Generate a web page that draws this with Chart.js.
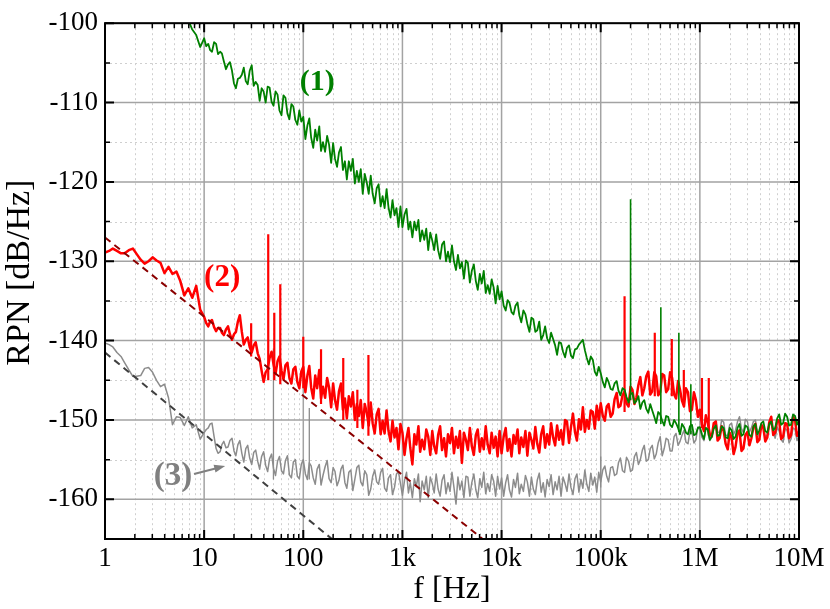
<!DOCTYPE html>
<html>
<head>
<meta charset="utf-8">
<script src="https://cdn.jsdelivr.net/npm/chart.js@4.4.0/dist/chart.umd.min.js"></script>
<style>
  html, body { margin: 0; padding: 0; background: #fff; }
  #chart { display: block; }
</style>
</head>
<body>
<canvas id="chart" width="830" height="609"></canvas>
<script>
// frequency grid: 25 points in the first decade, 50 per decade above, up to 10 MHz
const mantissaCoarse = [1, 1.1, 1.2, 1.32, 1.45, 1.58, 1.74, 1.91, 2.09, 2.29, 2.51, 2.75, 3.02, 3.31, 3.63, 3.98, 4.37, 4.79, 5.25, 5.75, 6.31, 6.92, 7.59, 8.32, 9.12];
const mantissaFine = [1, 1.05, 1.1, 1.15, 1.2, 1.26, 1.32, 1.38, 1.45, 1.51, 1.58, 1.66, 1.74, 1.82, 1.91, 2, 2.09, 2.19, 2.29, 2.4, 2.51, 2.63, 2.75, 2.88, 3.02, 3.16, 3.31, 3.47, 3.63, 3.8, 3.98, 4.17, 4.37, 4.57, 4.79, 5.01, 5.25, 5.5, 5.75, 6.03, 6.31, 6.61, 6.92, 7.24, 7.59, 7.94, 8.32, 8.71, 9.12, 9.55];
const decades = [1, 10, 100, 1e3, 1e4, 1e5, 1e6];
const freq = [];
decades.forEach(d => (d === 1 ? mantissaCoarse : mantissaFine).forEach(m => freq.push(m * d)));
freq.push(1e7);

// (1) green
const rpn1 = [
  null, null, null, null, null, null, null, null, null, null, null, null, null, null, null, null, null, null, null, null, -98.5, -99.6, -100.8, -101.5, -103.0,
  -101.9, -102.9, -102.6, -103.4, -103.6, -102.4, -102.6, -103.9, -103.6, -103.8, -104.8, -105.8, -105.2, -104.9, -106.0, -107.6, -108.2, -107.0, -106.9, -106.5, -105.6, -107.3, -107.7, -106.0, -105.3, -107.9, -107.4, -107.8, -109.8, -108.2, -108.6, -110.0, -108.0, -108.1, -109.9, -110.4, -108.6, -109.0, -111.0, -111.6, -109.1, -109.4, -111.4, -112.1, -110.2, -110.5, -112.2, -112.8, -111.0, -112.4,
  -111.8, -114.6, -112.9, -112.0, -114.4, -115.7, -113.4, -114.8, -113.0, -116.1, -115.0, -116.2, -114.2, -115.3, -117.6, -115.1, -117.1, -118.1, -116.3, -115.6, -118.5, -117.4, -119.7, -117.4, -118.6, -117.1, -120.2, -118.6, -120.0, -118.4, -121.5, -119.0, -120.1, -121.5, -119.2, -121.5, -122.7, -120.8, -120.3, -123.1, -121.8, -123.3, -120.9, -123.2, -124.5, -122.3, -124.2, -123.3, -125.7, -123.1,
  -125.7, -124.1, -123.4, -126.0, -125.0, -127.0, -125.0, -126.1, -124.8, -127.5, -126.1, -127.3, -125.9, -128.6, -126.4, -127.4, -128.6, -126.6, -128.6, -129.7, -127.9, -127.5, -130.0, -128.8, -130.1, -128.0, -130.0, -131.1, -129.2, -130.9, -130.1, -132.2, -129.9, -130.2, -132.7, -131.2, -130.4, -132.5, -133.6, -131.6, -132.8, -131.2, -134.0, -133.0, -134.1, -132.3, -133.3, -135.3, -133.1, -134.8,
  -133.8, -135.6, -136.2, -134.9, -135.2, -136.4, -136.7, -135.6, -135.2, -136.8, -137.7, -136.2, -136.7, -137.9, -138.9, -137.1, -137.3, -138.9, -138.7, -137.6, -139.9, -139.3, -138.2, -139.7, -140.3, -139.0, -139.8, -140.6, -141.8, -140.2, -140.3, -141.4, -142.1, -140.9, -140.6, -141.9, -142.2, -141.1, -141.0, -140.5, -140.2, -139.9, -141.2, -142.2, -143.0, -142.0, -142.4, -143.9, -144.4, -143.3,
  -144.1, -145.2, -145.9, -144.7, -145.2, -146.1, -146.2, -145.4, -145.1, -146.3, -146.9, -146.0, -146.2, -147.1, -147.8, -146.7, -146.6, -147.9, -147.6, -147.0, -148.6, -147.8, -147.5, -148.6, -149.1, -148.0, -148.8, -149.6, -150.4, -149.0, -149.3, -150.1, -150.7, -149.5, -149.6, -150.6, -150.9, -150.0, -150.4, -151.0, -151.8, -150.5, -150.9, -151.6, -151.8, -150.8, -150.6, -151.9, -151.8, -151.0,
  -150.9, -151.8, -152.4, -151.0, -151.2, -152.5, -152.1, -151.1, -150.7, -152.0, -151.9, -150.8, -151.0, -152.2, -152.3, -151.0, -151.3, -152.4, -152.1, -151.0, -150.5, -152.0, -151.8, -150.7, -150.9, -151.9, -152.1, -150.8, -150.5, -151.8, -151.3, -150.4, -150.2, -151.4, -151.6, -150.5, -150.2, -151.3, -151.0, -149.8, -149.3, -150.6, -150.4, -149.2, -149.6, -150.7, -150.6, -149.3, -149.5, -150.6,
  -150.0
];

// (2) red
const rpn2 = [
  -128.9, -128.7, -128.4, -128.7, -129.0, -129.0, -128.6, -128.4, -129.1, -129.8, -130.3, -130.0, -129.5, -129.9, -130.2, -131.5, -130.7, -131.6, -131.3, -132.5, -134.3, -133.4, -134.6, -133.1, -136.1,
  -137.0, -137.8, -138.2, -137.6, -137.4, -138.3, -138.8, -138.4, -138.4, -139.0, -139.3, -138.6, -138.2, -139.2, -139.9, -139.2, -138.9, -137.6, -136.8, -138.9, -140.5, -139.9, -139.6, -140.8, -141.5, -140.6, -140.2, -141.6, -142.3, -143.8, -145.2, -144.0, -143.6, -142.2, -141.4, -143.0, -144.2, -142.6, -142.0, -143.8, -144.9, -143.1, -142.8, -144.7, -145.4, -143.6, -143.3, -145.2, -146.0, -143.9,
  -143.3, -146.5, -144.4, -143.2, -145.9, -147.3, -144.4, -146.0, -143.7, -147.3, -145.8, -147.2, -144.7, -145.9, -148.4, -145.4, -147.5, -148.7, -146.4, -145.4, -148.7, -147.3, -149.8, -147.0, -148.3, -146.5, -150.0, -148.0, -149.5, -147.5, -151.0, -148.0, -149.1, -150.7, -147.8, -150.4, -151.7, -149.3, -148.6, -151.8, -150.1, -151.7, -148.8, -151.4, -152.7, -150.1, -152.2, -151.0, -153.7, -150.5,
  -151.6, -154.4, -152.3, -151.0, -153.5, -155.6, -151.8, -153.1, -150.8, -154.0, -152.5, -153.7, -151.2, -152.1, -154.4, -151.4, -153.3, -154.2, -151.9, -150.8, -153.8, -152.3, -154.6, -151.8, -152.9, -151.0, -154.2, -152.1, -153.5, -151.4, -155.4, -151.6, -152.5, -153.8, -151.0, -153.3, -154.4, -151.9, -151.2, -154.0, -152.3, -153.7, -150.8, -153.1, -154.2, -151.6, -153.5, -152.1, -154.6, -151.4,
  -154.2, -152.1, -151.0, -153.9, -152.4, -154.6, -151.9, -153.0, -151.2, -154.2, -152.2, -153.4, -151.4, -154.5, -151.6, -152.5, -153.6, -150.9, -153.0, -154.1, -151.8, -150.8, -153.5, -151.8, -153.1, -150.4, -152.2, -153.2, -150.7, -152.5, -151.3, -153.1, -150.0, -150.2, -152.9, -150.9, -149.2, -151.5, -152.6, -149.9, -151.2, -148.4, -151.5, -150.0, -151.1, -148.8, -149.0, -151.1, -148.2, -150.0,
  -147.9, -149.5, -150.1, -148.3, -148.0, -149.6, -149.2, -147.4, -146.6, -148.4, -148.2, -146.9, -146.4, -147.9, -148.3, -145.8, -146.2, -148.0, -147.2, -145.6, -144.6, -146.9, -146.0, -144.5, -143.9, -146.8, -146.4, -144.0, -144.5, -146.9, -146.5, -144.2, -144.4, -146.5, -146.1, -144.0, -144.7, -146.8, -147.3, -145.1, -146.2, -147.6, -148.3, -146.0, -146.5, -148.9, -148.7, -146.5, -147.5, -149.6,
  -148.7, -150.6, -151.4, -149.4, -150.3, -151.8, -152.1, -150.4, -150.2, -152.6, -152.3, -150.8, -151.4, -153.0, -153.7, -151.6, -152.2, -154.3, -153.4, -151.6, -151.3, -153.9, -153.6, -151.9, -151.5, -153.2, -152.3, -150.9, -150.5, -152.8, -152.5, -150.6, -151.0, -152.7, -152.2, -150.3, -149.6, -151.9, -151.6, -150.0, -150.1, -152.4, -152.1, -150.4, -150.5, -152.3, -151.9, -149.6, -150.0, -152.0,
  -151.5
];

// (3) gray
const rpn3 = [
  -140.3, -140.5, -140.8, -141.5, -142.0, -142.8, -143.7, -144.5, -144.5, -144.4, -143.5, -143.4, -144.0, -145.0, -145.8, -145.5, -147.2, -150.6, -149.6, -149.7, -150.7, -149.6, -151.0, -150.6, -152.4,
  -151.6, -151.2, -151.0, -150.5, -150.4, -152.1, -153.6, -154.2, -154.0, -153.1, -152.7, -153.5, -153.4, -152.6, -152.3, -153.9, -154.5, -153.1, -152.6, -154.2, -155.3, -153.6, -153.2, -154.8, -155.6, -154.1, -153.8, -155.2, -156.2, -154.6, -154.0, -155.7, -156.5, -154.9, -154.3, -156.1, -157.0, -155.2, -154.6, -156.4, -156.8, -155.1, -154.5, -156.9, -157.3, -155.3, -155.0, -157.1, -157.4, -155.6,
  -155.0, -156.8, -157.5, -155.4, -155.8, -157.3, -158.1, -156.2, -155.6, -158.2, -157.0, -155.9, -155.1, -157.4, -157.9, -156.0, -156.5, -158.3, -157.6, -156.2, -155.7, -157.9, -158.6, -156.6, -156.3, -158.9, -157.5, -156.0, -155.7, -157.8, -158.3, -156.4, -156.9, -159.5, -158.7, -157.1, -156.3, -157.8, -158.1, -156.6, -156.1, -158.6, -159.0, -157.3, -156.9, -159.4, -158.5, -156.8, -156.5, -158.0,
  -159.5, -157.6, -156.6, -159.2, -157.9, -159.8, -157.4, -158.4, -156.8, -160.3, -157.7, -158.8, -157.1, -159.8, -157.2, -158.0, -159.2, -156.8, -158.7, -159.6, -157.6, -156.9, -159.3, -157.9, -159.0, -156.6, -158.5, -160.6, -157.2, -158.8, -157.7, -159.8, -157.1, -157.2, -159.6, -157.9, -156.8, -158.8, -159.8, -157.4, -158.5, -156.6, -159.3, -158.0, -159.0, -156.9, -157.7, -159.6, -157.1, -158.7,
  -157.3, -159.6, -157.9, -156.9, -158.8, -159.7, -157.5, -158.5, -156.7, -159.3, -158.1, -159.0, -157.0, -157.8, -159.6, -157.2, -158.7, -159.4, -157.6, -156.7, -159.1, -157.9, -159.7, -157.5, -158.4, -156.9, -159.4, -157.8, -158.8, -157.1, -159.6, -157.2, -158.0, -159.0, -156.8, -158.5, -159.4, -157.4, -156.8, -159.1, -157.5, -158.6, -156.3, -158.1, -159.0, -156.7, -158.2, -157.2, -159.1, -156.6,
  -157.8, -156.3, -155.8, -157.1, -157.8, -156.0, -155.9, -157.0, -156.8, -155.4, -154.8, -156.4, -156.6, -154.7, -155.2, -156.5, -156.3, -154.6, -154.1, -155.6, -155.0, -153.8, -153.2, -155.2, -155.0, -153.6, -153.2, -154.9, -154.3, -152.9, -152.1, -154.5, -153.6, -152.3, -152.5, -153.9, -153.9, -152.1, -151.7, -153.2, -152.7, -151.9, -151.3, -152.8, -153.0, -151.4, -151.5, -152.9, -152.5, -150.9,
  -151.1, -152.2, -152.6, -151.0, -151.2, -152.6, -152.1, -150.9, -150.1, -151.5, -151.6, -150.0, -150.3, -152.0, -151.9, -150.6, -150.4, -151.8, -151.3, -150.2, -149.6, -151.1, -151.6, -149.9, -150.2, -151.5, -151.0, -150.2, -150.0, -151.4, -152.1, -150.6, -150.8, -152.3, -151.8, -150.7, -150.4, -151.6, -152.3, -150.9, -151.4, -152.5, -152.8, -151.1, -151.3, -152.9, -152.4, -151.0, -151.2, -152.6,
  -152.0
];

// narrow spurs: frequency, peak, foot
const spur1Freq = [200000, 404000, 614000, 811000];
const spur1Top = [-122.2, -135.8, -139.0, -145.5];
const spur1Foot = [-147.5, -150.5, -151.5, -151.8];

const spur2Freq = [29.8, 44.3, 51, 58.6, 100, 151, 253, 351, 454, 174000, 351000, 521000, 689000, 1050000, 1230000];
const spur2Top = [-137.8, -126.6, -136.5, -132.9, -139.5, -141.1, -142.2, -146.2, -141.8, -134.4, -139.0, -139.8, -143.7, -144.7, -144.7];
const spur2Foot = [-142.0, -145.0, -145.0, -145.5, -146.0, -148.0, -150.0, -151.0, -152.0, -149.0, -147.0, -147.0, -148.0, -151.0, -152.0];

const spur3Freq = [50, 115, 100000];
const spur3Top = [-141.0, -148.5, -154.6];
const spur3Foot = [-157.5, -157.5, -158.5];

// 1/f guide lines
const fit2Freq = [1, 10000];
const fit2 = [-127.0, -166.9];
const fit3Freq = [1, 1000];
const fit3 = [-141.5, -172.3];

// axes
const xTickVals = [1, 10, 100, 1e3, 1e4, 1e5, 1e6, 1e7];
const xTickLabels = ['1', '10', '100', '1k', '10k', '100k', '1M', '10M'];
const yTickVals = [-100, -110, -120, -130, -140, -150, -160];
const yMinor = [-105, -115, -125, -135, -145, -155];
const xMinor = [];
decades.forEach(d => [2, 3, 4, 5, 6, 7, 8, 9].forEach(m => xMinor.push(m * d)));

function series(vals) {
  return freq.map((f, i) => ({ x: f, y: vals[i] }));
}
function spurs(fs, tops, feet) {
  const pts = [];
  fs.forEach((f, i) => {
    pts.push({ x: f, y: feet[i] }, { x: f, y: tops[i] }, { x: f, y: null });
  });
  return pts;
}
function pairs(fs, vs) {
  return fs.map((f, i) => ({ x: f, y: vs[i] }));
}

const notes = [
  { text: '(1)', f: 138, v: -107.4, color: '#008000', size: 30 },
  { text: '(2)', f: 15.2, v: -132.1, color: '#ff0000', size: 31 },
  { text: '(3)', f: 4.86, v: -157.1, color: '#808080', size: 33 }
];
const arrow = { from: [7.9, -156.8], to: [16.3, -155.8] };

const frame = {
  id: 'frame',
  beforeDatasetsDraw(chart) {
    const { ctx, chartArea: a, scales: { x, y } } = chart;
    ctx.save();
    ctx.lineWidth = 1;
    ctx.strokeStyle = '#cfcfcf';
    ctx.setLineDash([2, 3]);
    ctx.beginPath();
    xMinor.forEach(v => {
      const p = Math.round(x.getPixelForValue(v)) + 0.5;
      ctx.moveTo(p, a.top); ctx.lineTo(p, a.bottom);
    });
    yMinor.forEach(v => {
      const p = Math.round(y.getPixelForValue(v)) + 0.5;
      ctx.moveTo(a.left, p); ctx.lineTo(a.right, p);
    });
    ctx.stroke();
    ctx.setLineDash([]);
    ctx.strokeStyle = '#a3a3a3';
    ctx.lineWidth = 1.5;
    ctx.beginPath();
    xTickVals.forEach(v => {
      const p = x.getPixelForValue(v);
      ctx.moveTo(p, a.top); ctx.lineTo(p, a.bottom);
    });
    yTickVals.forEach(v => {
      const p = y.getPixelForValue(v);
      ctx.moveTo(a.left, p); ctx.lineTo(a.right, p);
    });
    ctx.stroke();
    ctx.restore();
  },
  afterDatasetsDraw(chart) {
    const { ctx, chartArea: a, scales: { x, y } } = chart;
    ctx.save();
    ctx.strokeStyle = '#000';
    // inward ticks on all four sides
    const tick = (vals, len, w) => {
      ctx.lineWidth = w;
      ctx.beginPath();
      vals.forEach(v => {
        const p = x.getPixelForValue(v);
        ctx.moveTo(p, a.bottom); ctx.lineTo(p, a.bottom - len);
        ctx.moveTo(p, a.top); ctx.lineTo(p, a.top + len);
      });
      ctx.stroke();
    };
    const ytick = (vals, len, w) => {
      ctx.lineWidth = w;
      ctx.beginPath();
      vals.forEach(v => {
        const p = y.getPixelForValue(v);
        ctx.moveTo(a.left, p); ctx.lineTo(a.left + len, p);
        ctx.moveTo(a.right, p); ctx.lineTo(a.right - len, p);
      });
      ctx.stroke();
    };
    tick(xTickVals, 9, 2);
    tick(xMinor, 5, 1.5);
    ytick(yTickVals, 9, 2);
    ytick(yMinor, 5, 1.5);
    ctx.lineWidth = 2;
    ctx.strokeRect(a.left, a.top, a.right - a.left, a.bottom - a.top);

    // curve labels
    ctx.textAlign = 'center';
    ctx.textBaseline = 'middle';
    notes.forEach(n => {
      ctx.fillStyle = n.color;
      ctx.font = 'bold ' + n.size + 'px "Liberation Serif"';
      ctx.fillText(n.text, x.getPixelForValue(n.f), y.getPixelForValue(n.v));
    });

    // arrow to curve (3)
    const x0 = x.getPixelForValue(arrow.from[0]), y0 = y.getPixelForValue(arrow.from[1]);
    const x1 = x.getPixelForValue(arrow.to[0]), y1 = y.getPixelForValue(arrow.to[1]);
    const ang = Math.atan2(y1 - y0, x1 - x0);
    ctx.strokeStyle = '#808080';
    ctx.fillStyle = '#808080';
    ctx.lineWidth = 2;
    ctx.beginPath();
    ctx.moveTo(x0, y0);
    ctx.lineTo(x1 - 8 * Math.cos(ang), y1 - 8 * Math.sin(ang));
    ctx.stroke();
    ctx.beginPath();
    ctx.moveTo(x1, y1);
    ctx.lineTo(x1 - 11 * Math.cos(ang) + 4 * Math.sin(ang), y1 - 11 * Math.sin(ang) - 4 * Math.cos(ang));
    ctx.lineTo(x1 - 11 * Math.cos(ang) - 4 * Math.sin(ang), y1 - 11 * Math.sin(ang) + 4 * Math.cos(ang));
    ctx.closePath();
    ctx.fill();
    ctx.restore();
  }
};

Chart.defaults.font.family = '"Liberation Serif", "Times New Roman", serif';
Chart.defaults.color = '#000';

const ctx = document.getElementById('chart');
new Chart(ctx, {
  type: 'line',
  data: {
    datasets: [
      { data: pairs(fit2Freq, fit2), borderColor: '#8b0000', borderWidth: 2, borderDash: [7, 5] },
      { data: pairs(fit3Freq, fit3), borderColor: '#404040', borderWidth: 2, borderDash: [7, 5] },
      { data: spurs(spur1Freq, spur1Top, spur1Foot), borderColor: '#008000', borderWidth: 1.6 },
      { data: series(rpn1), borderColor: '#008000', borderWidth: 1.8 },
      { data: spurs(spur2Freq, spur2Top, spur2Foot), borderColor: '#ff0000', borderWidth: 2.2 },
      { data: series(rpn2), borderColor: '#ff0000', borderWidth: 2.5 },
      { data: spurs(spur3Freq, spur3Top, spur3Foot), borderColor: '#8c8c8c', borderWidth: 1.3 },
      { data: series(rpn3), borderColor: '#8c8c8c', borderWidth: 1.5 }
    ]
  },
  options: {
    responsive: false,
    devicePixelRatio: 1,
    animation: false,
    spanGaps: false,
    elements: { point: { radius: 0 }, line: { tension: 0, borderJoinStyle: 'round' } },
    layout: { padding: { top: 22, right: 31, left: 0, bottom: 0 } },
    plugins: { legend: { display: false }, tooltip: { enabled: false } },
    scales: {
      x: {
        type: 'logarithmic',
        min: 1,
        max: 1e7,
        grid: { display: false, drawTicks: false },
        border: { display: false },
        afterBuildTicks: s => { s.ticks = xTickVals.map(v => ({ value: v })); },
        afterFit: s => { s.height = 70; },
        ticks: {
          autoSkip: false,
          maxRotation: 0,
          padding: 4,
          font: { size: 27 },
          callback: v => xTickLabels[xTickVals.indexOf(v)] ?? ''
        },
        title: { display: true, text: 'f [Hz]', font: { size: 32 }, padding: 0 }
      },
      y: {
        min: -165,
        max: -100,
        grid: { display: false, drawTicks: false },
        border: { display: false },
        afterBuildTicks: s => { s.ticks = yTickVals.map(v => ({ value: v })); },
        afterFit: s => { s.width = 105; },
        ticks: {
          padding: 7,
          font: { size: 27 },
          callback: v => String(v)
        },
        title: { display: true, text: '\u00a0\u00a0RPN [dB/Hz]', font: { size: 34 }, padding: 0 }
      }
    }
  },
  plugins: [frame]
});
</script>
</body>
</html>
